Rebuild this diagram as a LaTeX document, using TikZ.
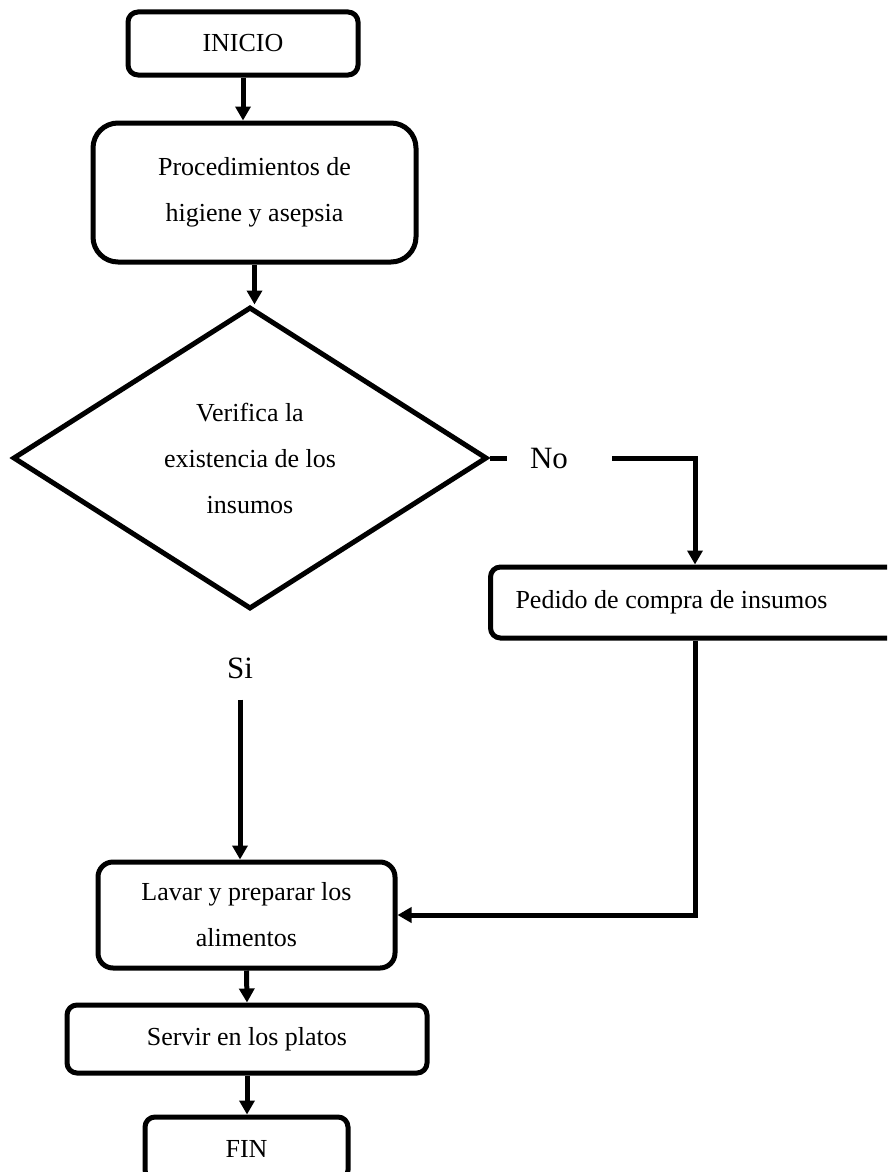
\documentclass[tikz,border=0pt]{standalone}
\usepackage{fontspec}
\setmainfont{Liberation Serif}
\usetikzlibrary{arrows.meta,shapes.geometric}

\begin{document}
\begin{tikzpicture}[
  x=1pt, y=-1pt,
  font=\fontsize{26}{46}\selectfont,
  >={Triangle[length=14pt,width=15pt]},
  box/.style={draw, line width=5pt, rounded corners=#1, align=center, inner sep=0pt},
  box/.default=10pt,
  cond/.style={draw, diamond, aspect=1.57, line width=5pt, align=center, inner sep=0pt, minimum width=474pt, minimum height=302pt},
  ans/.style={font=\fontsize{31}{36}\selectfont, inner sep=0pt},
  arr/.style={->, line width=5pt},
  seg/.style={line width=5pt}
]
\useasboundingbox (0,0) rectangle (887,1172);
\clip (0,0) rectangle (887,1172);

% ---------------- main column ----------------
\node[box, minimum width=230pt, minimum height=63pt] (ini) at (243,43.5) {INICIO};
\node[box=25pt, minimum width=323pt, minimum height=139pt] (proc) at (254.5,192.5) {Procedimientos de\\higiene y asepsia};
\node[cond] (dec) at (250,458) {Verifica la\\existencia de los\\insumos};
\node[ans] (si) at (240,668) {Si};
\node[box=15pt, minimum width=297pt, minimum height=106pt] (lav) at (246.5,915) {Lavar y preparar los\\alimentos};
\node[box, minimum width=360pt, minimum height=68pt] (serv) at (247,1039) {Servir en los platos};
\node[box, minimum width=203pt, minimum height=63pt] (fin) at (246.5,1148.5) {FIN};

% ---------------- No branch ----------------
\node[ans] (no) at (549,458) {No};
\node[box, anchor=west, minimum height=71pt, text width=420pt, align=flush left, inner xsep=25pt] (ped) at (488,602.5) {Pedido de compra de insumos};

% ---------------- connectors ----------------
\draw[arr] (ini.south) -- (ini.south |- proc.north);
\draw[arr] (proc.south) -- (proc.south |- dec.north);
\draw[seg] (dec.east) -- ([xshift=-23pt]no.west);
\draw[arr] ([xshift=44pt]no.east) -| ([xshift=207pt]ped.north west);
\draw[arr] ([yshift=-21pt]si.south) -- (si.south |- lav.north);
\draw[arr] ([xshift=207pt]ped.south west) |- (lav.east);
\draw[arr] (lav.south) -- (serv.north);
\draw[arr] (serv.south) -- (serv.south |- fin.north);
\end{tikzpicture}
\end{document}
